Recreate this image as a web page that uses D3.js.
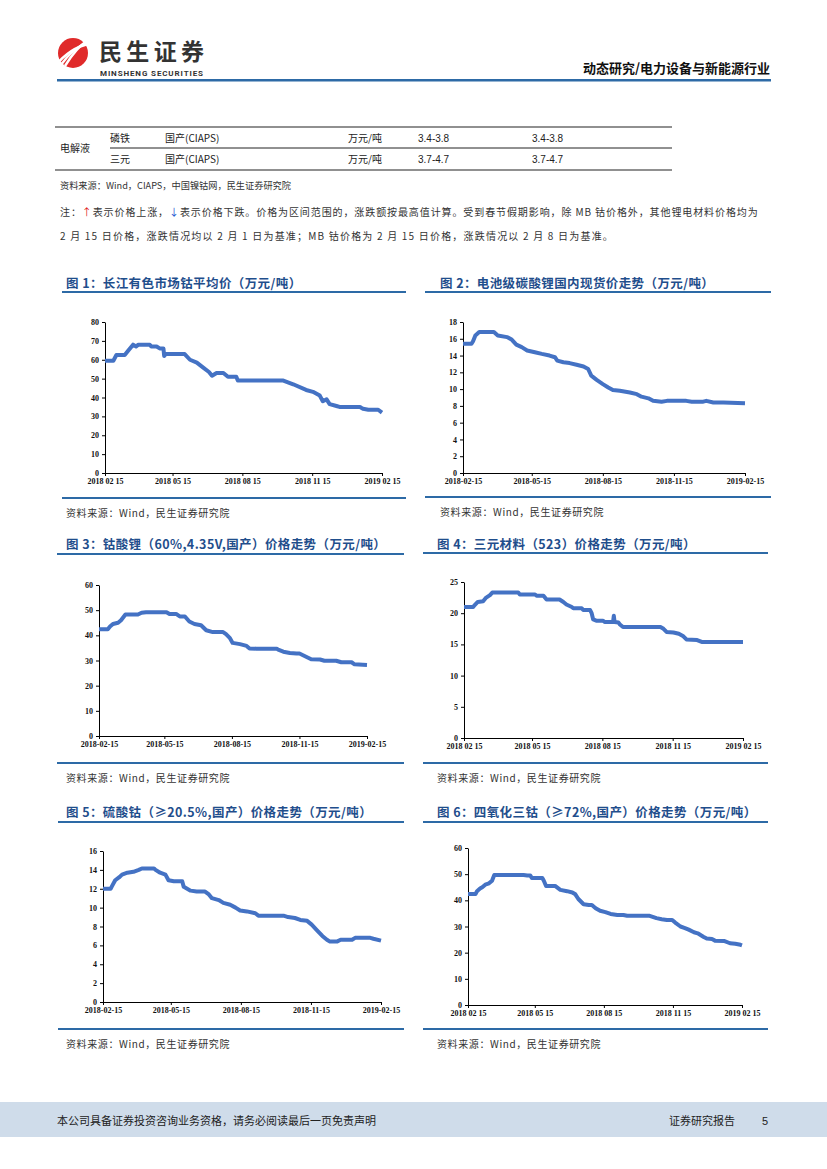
<!DOCTYPE html>
<html><head><meta charset="utf-8">
<script src="https://cdn.jsdelivr.net/npm/d3@7"></script>
<style>
body{margin:0;background:#fff;}
svg{display:block;}
.cjk{font-family:"Noto Sans CJK SC","Noto Sans",sans-serif;}
.tick text{font-family:"Liberation Serif","DejaVu Serif",serif;font-weight:bold;font-size:8px;fill:#111;}
</style></head>
<body>
<script>
// ---------- data (days since 2018-02-15, values in 万元/吨) ----------
const c1Days = [0,11,15,26,31,37,41,44,59,61,68,72,77,78,80,105,112,121,129,137,141,147,156,162,173,175,235,248,265,274,283,287,292,296,305,309,336,340,347,360,365];
const c1Vals = [59.5,59.5,62.5,62.5,65,68,67,68,68,67,67,66,66,62,63,63,60,58.5,56,53.5,51.5,53,53,51,51,49,49,47,44,43,41,38,39,36.5,35.5,35,35,34,33.5,33.5,32];

const c2Days = [0,11,13,16,21,40,45,57,63,69,76,83,93,102,112,119,122,130,138,147,156,162,166,173,181,188,194,203,216,225,231,240,246,257,264,289,296,311,315,324,337,365];
const c2Vals = [15.4,15.4,15.7,16.4,16.8,16.8,16.4,16.2,15.9,15.3,15.0,14.6,14.4,14.2,14.0,13.8,13.4,13.2,13.1,12.9,12.7,12.4,11.6,11.1,10.6,10.2,9.9,9.8,9.6,9.4,9.1,8.9,8.6,8.5,8.6,8.6,8.5,8.5,8.6,8.4,8.4,8.3];

const c3Days = [0,12,15,19,26,30,36,53,58,64,92,96,105,110,117,123,130,139,146,155,169,173,178,182,192,201,205,214,242,244,251,260,269,273,282,289,301,307,323,330,344,348,365];
const c3Vals = [42.4,42.4,43.5,44.5,45,46,48.3,48.3,49,49.2,49.2,48.5,48.5,47.5,47.5,45.5,44.5,44,42,41.3,41.3,40.5,39,37,36.5,35.8,34.8,34.7,34.7,34.3,33.5,33,32.8,32.8,31.5,30.5,30.4,29.9,29.9,29.3,29.3,28.5,28.2];

const c4Days = [0,12,14,18,25,29,34,37,71,73,93,95,104,108,125,130,134,141,143,154,156,165,167,169,173,182,184,195,196,197,202,204,208,257,261,265,274,281,287,291,305,311,365];
const c4Vals = [21.0,21.0,21.3,21.8,21.9,22.5,22.9,23.3,23.3,23.0,23.0,22.8,22.8,22.2,22.2,21.8,21.4,21.0,20.8,20.8,20.5,20.5,20.0,19.0,18.8,18.8,18.6,18.6,19.6,18.6,18.5,18.2,17.8,17.8,17.5,17.0,16.9,16.7,16.3,15.8,15.7,15.4,15.4];

const c5Days = [0,10,12,16,21,25,32,40,47,51,67,69,75,82,86,93,104,106,115,123,134,139,143,152,158,167,174,180,189,200,204,237,243,252,259,268,274,281,288,294,298,307,312,327,331,351,355,365];
const c5Vals = [12.0,12.0,12.3,12.9,13.2,13.5,13.7,13.8,14.0,14.15,14.15,14.0,13.7,13.5,12.9,12.8,12.8,12.2,11.8,11.7,11.7,11.4,11.0,10.8,10.5,10.3,10.0,9.7,9.6,9.4,9.15,9.15,9.0,8.9,8.7,8.6,8.2,7.6,7.0,6.6,6.4,6.4,6.6,6.6,6.8,6.8,6.7,6.5];

const c6Days = [0,10,12,16,19,23,28,32,35,74,79,83,85,99,101,104,116,123,132,139,143,147,154,161,165,170,176,183,190,199,207,212,242,251,258,265,272,276,283,289,294,301,306,314,318,325,329,341,349,356,363,365];
const c6Vals = [42.4,42.4,43.5,44.5,45,46,46.5,47.5,49.7,49.7,49.5,49.5,48.5,48.5,47.5,45.5,45.5,44,43.5,43,42.3,40.5,38.5,38.2,38.2,37,36,35.5,34.8,34.4,34.4,34.1,34.1,33.2,32.8,32.5,32.5,31.5,30,29.4,28.8,27.8,27.4,26,25.4,25.2,24.6,24.5,23.6,23.4,23,22.8];

const tickDates = ["2018-02-15","2018-05-15","2018-08-15","2018-11-15","2019-02-15"];
const tickLabelsDash = ["2018-02-15","2018-05-15","2018-08-15","2018-11-15","2019-02-15"];
const tickLabelsSpace = ["2018 02 15","2018 05 15","2018 08 15","2018 11 15","2019 02 15"];

const titles = [
  "图 1：长江有色市场钴平均价（万元/吨）",
  "图 2：电池级碳酸锂国内现货价走势（万元/吨）",
  "图 3：钴酸锂（60%,4.35V,国产）价格走势（万元/吨）",
  "图 4：三元材料（523）价格走势（万元/吨）",
  "图 5：硫酸钴（≥20.5%,国产）价格走势（万元/吨）",
  "图 6：四氧化三钴（≥72%,国产）价格走势（万元/吨）"
];
const yMax = [80,18,60,25,16,60];
const yStep = [10,2,10,5,2,10];

const tableRows = [
  ["磷铁","国产(CIAPS)","万元/吨","3.4-3.8","3.4-3.8"],
  ["三元","国产(CIAPS)","万元/吨","3.7-4.7","3.7-4.7"]
];
const sourceChart = "资料来源：Wind，民生证券研究院";

// ---------- drawing ----------
const W = 827, H = 1169;
const svg = d3.select("body").append("svg").attr("width", W).attr("height", H);
const blue = "#1F4E8C", rule = "#2D6AA6", lineC = "#4472C4";
const parse = d3.timeParse("%Y-%m-%d");
const start = parse("2018-02-15");

// header
const logo = svg.append("g");
logo.append("circle").attr("cx",73).attr("cy",53).attr("r",15).attr("fill","#E02A2A");
[[-6,0],[-1,0],[4,0]].forEach((o,i)=>{
  logo.append("path").attr("d",`M${61+o[0]},${66} Q${70+i*3},${48} ${88},${44-i*2}`)
    .attr("stroke","#fff").attr("stroke-width",2.4).attr("fill","none");
});
svg.append("text").attr("class","cjk").attr("x",99).attr("y",60).attr("font-size",23).attr("font-weight","bold").attr("fill","#333").attr("textLength",105).text("民生证券");
svg.append("text").attr("x",100).attr("y",75.5).attr("font-family","Roboto,'Noto Sans',sans-serif").attr("font-size",8).attr("font-weight","bold").attr("fill","#333").attr("textLength",103).text("MINSHENG SECURITIES");
svg.append("text").attr("class","cjk").attr("x",770).attr("y",73).attr("text-anchor","end").attr("font-size",13).attr("font-weight","bold").attr("fill","#111").text("动态研究/电力设备与新能源行业");
svg.append("rect").attr("x",57).attr("y",79).attr("width",714).attr("height",2.5).attr("fill",rule);

// table
const tx = [110,165,348,418,532];
svg.append("line").attr("x1",55).attr("x2",672).attr("y1",127).attr("y2",127).attr("stroke","#222").attr("stroke-width",1.2);
svg.append("line").attr("x1",110).attr("x2",672).attr("y1",148).attr("y2",148).attr("stroke","#222").attr("stroke-width",1);
svg.append("line").attr("x1",55).attr("x2",672).attr("y1",170).attr("y2",170).attr("stroke","#222").attr("stroke-width",1.2);
svg.append("text").attr("class","cjk").attr("x",60).attr("y",152).attr("font-size",10).attr("fill","#222").text("电解液");
tableRows.forEach((r,ri)=>{
  r.forEach((c,ci)=>{
    svg.append("text").attr("class", ci>=3 ? "" : "cjk").attr("x",tx[ci]).attr("y",142+ri*21)
      .attr("font-family", ci>=3 ? "'Liberation Sans',Arial,sans-serif" : null)
      .attr("font-size",10).attr("fill","#222").text(c);
  });
});
svg.append("text").attr("class","cjk").attr("x",60).attr("y",189).attr("font-size",9.2).attr("fill","#333").text("资料来源：Wind，CIAPS，中国镍钴网，民生证券研究院");
const n1 = svg.append("text").attr("class","cjk").attr("x",60).attr("y",216).attr("font-size",10).attr("letter-spacing",0.9).attr("fill","#333");
n1.append("tspan").text("注：");
n1.append("tspan").attr("fill","#E02020").text("↑");
n1.append("tspan").text("表示价格上涨，");
n1.append("tspan").attr("fill","#2050D0").text("↓");
n1.append("tspan").text("表示价格下跌。价格为区间范围的，涨跌额按最高值计算。受到春节假期影响，除 MB 钴价格外，其他锂电材料价格均为");
svg.append("text").attr("class","cjk").attr("x",60).attr("y",240).attr("font-size",10).attr("letter-spacing",1.2).attr("fill","#333")
  .text("2 月 15 日价格，涨跌情况均以 2 月 1 日为基准；MB 钴价格为 2 月 15 日价格，涨跌情况以 2 月 8 日为基准。");

// charts
const charts = [
  {days:c1Days, vals:c1Vals, labels:tickLabelsSpace, x0:105,x1:382,yT:322,y0:473, tx:66, ty:288, rx0:62, rx1:406, ry:292, by:498},
  {days:c2Days, vals:c2Vals, labels:tickLabelsDash,  x0:463,x1:745,yT:322,y0:473, tx:440,ty:288, rx0:425,rx1:771, ry:292, by:497},
  {days:c3Days, vals:c3Vals, labels:tickLabelsDash,  x0:99, x1:367,yT:585,y0:736, tx:66, ty:549, rx0:57, rx1:404, ry:554, by:763},
  {days:c4Days, vals:c4Vals, labels:tickLabelsSpace, x0:464,x1:743,yT:582,y0:738, tx:437,ty:549, rx0:423,rx1:768, ry:553, by:763},
  {days:c5Days, vals:c5Vals, labels:tickLabelsDash,  x0:103,x1:381,yT:851,y0:1002,tx:66, ty:817, rx0:58, rx1:404, ry:822, by:1029},
  {days:c6Days, vals:c6Vals, labels:tickLabelsSpace, x0:468,x1:742,yT:848,y0:1005,tx:437,ty:817, rx0:423,rx1:768, ry:822, by:1029}
];

charts.forEach((c,i)=>{
  const g = svg.append("g");
  g.append("text").attr("class","cjk").attr("x",c.tx).attr("y",c.ty).attr("font-size",12.5).attr("letter-spacing",0.4).attr("font-weight","bold").attr("fill",blue).text(titles[i]);
  g.append("rect").attr("x",c.rx0).attr("y",c.ry-1).attr("width",c.rx1-c.rx0).attr("height",2).attr("fill",rule);
  g.append("rect").attr("x",c.rx0).attr("y",c.by-1).attr("width",c.rx1-c.rx0).attr("height",2).attr("fill",rule);
  g.append("text").attr("class","cjk").attr("x",c.tx).attr("y",c.by+19).attr("font-size",10).attr("letter-spacing",0.6).attr("fill","#333").text(sourceChart);

  const x = d3.scaleTime().domain([start, parse("2019-02-15")]).range([c.x0,c.x1]);
  const y = d3.scaleLinear().domain([0,yMax[i]]).range([c.y0,c.yT]);
  const xa = d3.axisBottom(x).tickValues(tickDates.map(parse)).tickSize(3).tickSizeOuter(0)
      .tickFormat((d,k)=>c.labels[k]);
  const ya = d3.axisLeft(y).tickValues(d3.range(0,yMax[i]+0.001,yStep[i])).tickSize(3).tickSizeOuter(0);
  const gx = g.append("g").attr("transform",`translate(0,${c.y0})`).call(xa);
  const gy = g.append("g").attr("transform",`translate(${c.x0},0)`).call(ya);
  [gx,gy].forEach(a=>{a.selectAll("path,line").attr("stroke","#000").attr("stroke-width",1);});
  gx.selectAll("text").attr("dy","0.9em").attr("y",4);
  gy.selectAll("text").attr("x",-6);

  const pts = c.days.map((d,k)=>({date:d3.timeDay.offset(start,d), v:c.vals[k]}));
  const line = d3.line().x(d=>x(d.date)).y(d=>y(d.v));
  g.append("path").datum(pts).attr("d",line).attr("fill","none").attr("stroke",lineC)
    .attr("stroke-width",4).attr("stroke-linejoin","round").attr("stroke-linecap","butt");
});

// footer
svg.append("rect").attr("x",0).attr("y",1102).attr("width",W).attr("height",35).attr("fill","#CFDCEA");
svg.append("text").attr("class","cjk").attr("x",57).attr("y",1125).attr("font-size",11).attr("fill","#222").text("本公司具备证券投资咨询业务资格，请务必阅读最后一页免责声明");
svg.append("text").attr("class","cjk").attr("x",669).attr("y",1125).attr("font-size",11).attr("fill","#222").text("证券研究报告");
svg.append("text").attr("x",762).attr("y",1125).attr("font-family","'Liberation Sans',Arial,sans-serif").attr("font-size",11).attr("fill","#222").text("5");
</script>
</body></html>
